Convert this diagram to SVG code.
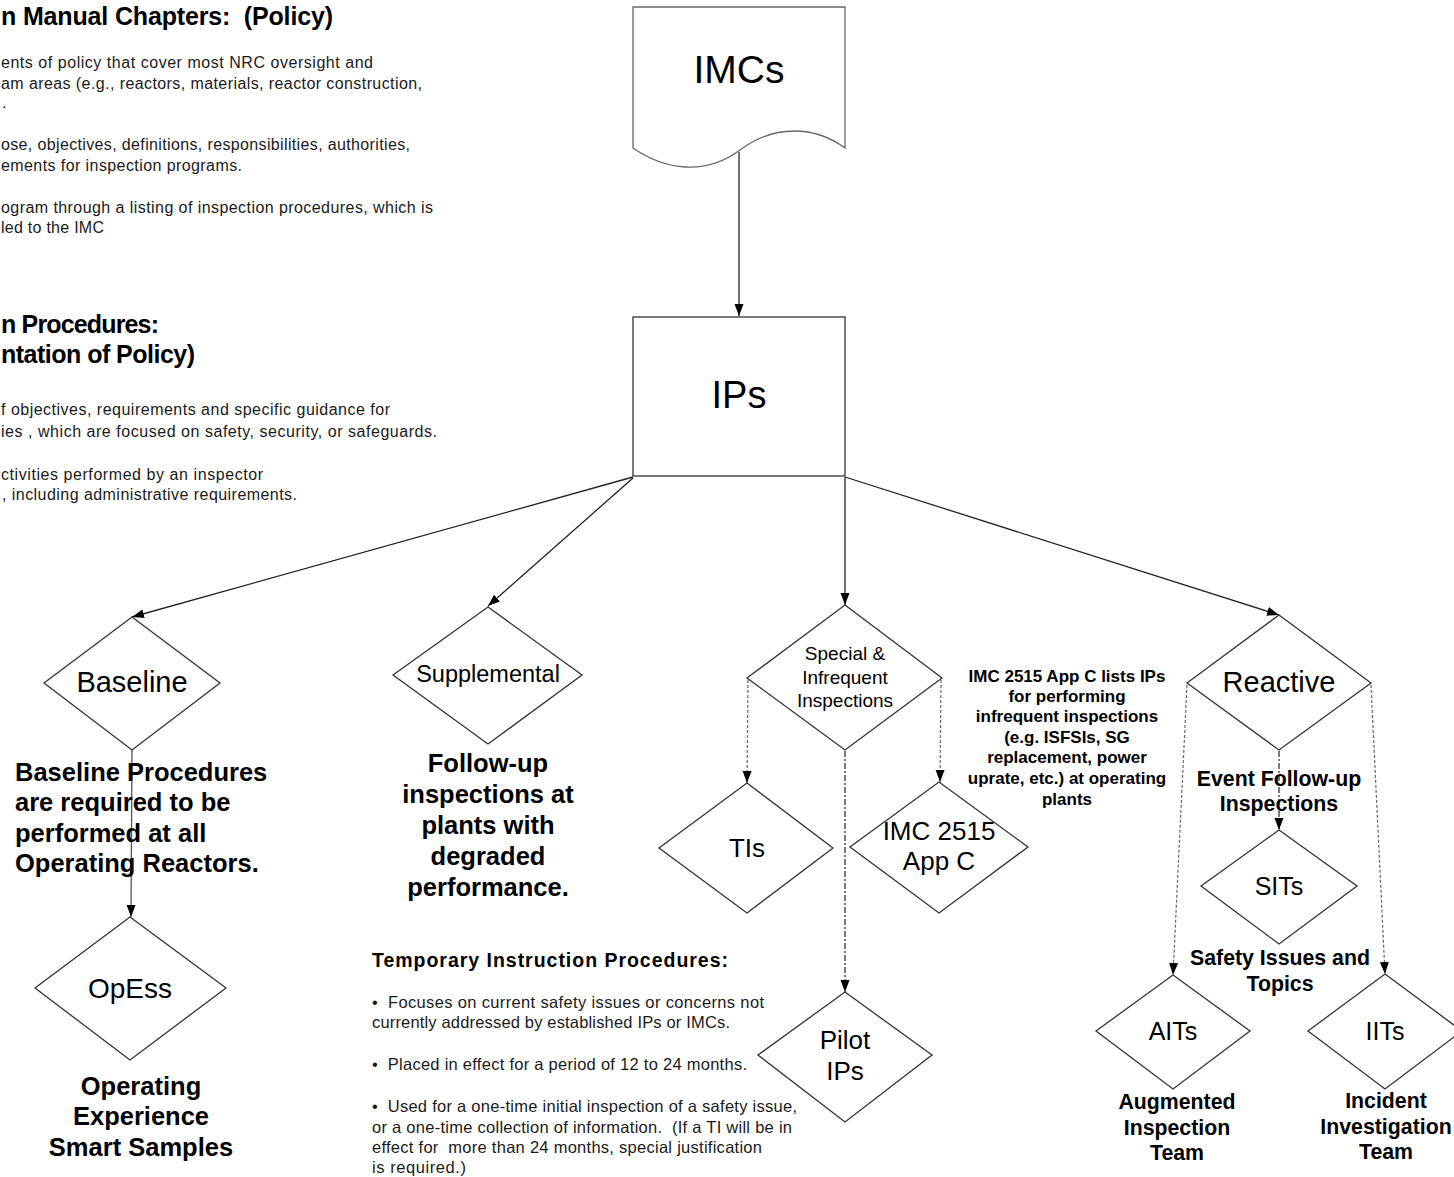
<svg xmlns="http://www.w3.org/2000/svg" width="1454" height="1177" viewBox="0 0 1454 1177">
<style>
text { font-family: "Liberation Sans", Arial, sans-serif; fill: #000; }
.shape { fill: #fff; stroke: #333; stroke-width: 1.3; }
.doc { fill: #fff; stroke: #666; stroke-width: 1.3; }
.m { text-anchor: middle; }
.b { font-weight: bold; }
.desc { font-size: 16px; fill: #1a1a1a; }
.ti { font-size: 16.5px; fill: #1a1a1a; }
.big { font-size: 25.5px; font-weight: bold; }
.mid { font-size: 21.3px; font-weight: bold; }
.conn { stroke: #222; stroke-width: 1.3; fill: none; marker-end: url(#arr); }
.gray { stroke: #555; stroke-width: 1.3; fill: none; marker-end: url(#arr); }
.dash { stroke: #666; stroke-width: 1.2; fill: none; stroke-dasharray: 3 2; marker-end: url(#arr); }
.dashd { stroke: #222; stroke-width: 1.2; fill: none; stroke-dasharray: 6 2 2 2; marker-end: url(#arr); }
</style>
<defs>
<marker id="arr" viewBox="0 0 12 10" markerWidth="12" markerHeight="10" refX="12" refY="5" orient="auto" markerUnits="userSpaceOnUse">
<path d="M0,0.5 L12,5 L0,9.5 z" fill="#000"/>
</marker>
</defs>

<g id="imc-description">
<text x="1" y="25" class="b" font-size="25" xml:space="preserve" textLength="332">n Manual Chapters:  (Policy)</text>
<text x="1" y="68" class="desc" textLength="372">ents of policy that cover most NRC oversight and</text>
<text x="1" y="89" class="desc" textLength="421">am areas (e.g., reactors, materials, reactor construction,</text>
<text x="2" y="108" class="desc">.</text>
<text x="1" y="150" class="desc" textLength="409">ose, objectives, definitions, responsibilities, authorities,</text>
<text x="1" y="171" class="desc" textLength="241">ements for inspection programs.</text>
<text x="1" y="213" class="desc" textLength="432">ogram through a listing of inspection procedures, which is</text>
<text x="1" y="233" class="desc" textLength="103">led to the IMC</text>
</g>

<g id="ip-description">
<text x="1" y="333" class="b" font-size="25" textLength="158">n Procedures:</text>
<text x="1" y="363" class="b" font-size="25" textLength="194">ntation of Policy)</text>
<text x="1" y="415" class="desc" textLength="389">f objectives, requirements and specific guidance for</text>
<text x="1" y="437" class="desc" textLength="436">ies , which are focused on safety, security, or safeguards.</text>
<text x="1" y="480" class="desc" textLength="262">ctivities performed by an inspector</text>
<text x="2" y="500" class="desc" textLength="295">, including administrative requirements.</text>
</g>

<g id="connectors">
<path class="conn" d="M739,152 L739,316"/>
<path class="conn" d="M633,477 L132,617"/>
<path class="conn" d="M633,478 L488,606"/>
<path class="conn" d="M845,477 L845,605"/>
<path class="conn" d="M845,477 L1279,615"/>
<path class="gray" d="M132,750 L131,917"/>
<path class="dash" d="M748,680 L747,783"/>
<path class="dash" d="M941,680 L940,782"/>
<path class="dashd" d="M845,751 L845,992"/>
<path class="dash" d="M1187,685 L1173,975"/>
<path class="dash" d="M1371,685 L1385,974"/>
<path class="dashd" d="M1279,751 L1279,830"/>
</g>

<g id="imcs">
<path class="doc" d="M633,7 H845 V148 C815,126 775,124 740,150 C705,176 665,170 633,148 Z"/>
<text x="739" y="83" class="m" font-size="39">IMCs</text>
</g>

<g id="ips">
<rect class="shape" x="633" y="317" width="212" height="159" stroke-width="1.5"/>
<text x="739" y="408" class="m" font-size="38">IPs</text>
</g>

<g id="baseline">
<polygon class="shape" points="132,617 220,683 132,750 44,683"/>
<text x="132" y="692" class="m" font-size="29">Baseline</text>
</g>
<g id="baseline-note">
<text x="15" y="781" class="big">Baseline Procedures</text>
<text x="15" y="811" class="big">are required to be</text>
<text x="15" y="842" class="big">performed at all</text>
<text x="15" y="872" class="big">Operating Reactors.</text>
</g>

<g id="opess">
<polygon class="shape" points="130,917 226,988 130,1060 35,988"/>
<text x="130" y="998" class="m" font-size="28">OpEss</text>
</g>
<g id="opess-note">
<text x="141" y="1095" class="m big">Operating</text>
<text x="141" y="1125" class="m big">Experience</text>
<text x="141" y="1156" class="m big">Smart Samples</text>
</g>

<g id="supplemental">
<polygon class="shape" points="488,607 582,675 488,744 393,675"/>
<text x="488" y="682" class="m" font-size="23.5">Supplemental</text>
</g>
<g id="supplemental-note">
<text x="488" y="772" class="m big">Follow-up</text>
<text x="488" y="803" class="m big">inspections at</text>
<text x="488" y="834" class="m big">plants with</text>
<text x="488" y="865" class="m big">degraded</text>
<text x="488" y="896" class="m big">performance.</text>
</g>

<g id="special">
<polygon class="shape" points="845,605 942,678 845,750 747,678"/>
<text x="845" y="660" class="m" font-size="19">Special &amp;</text>
<text x="845" y="684" class="m" font-size="19">Infrequent</text>
<text x="845" y="707" class="m" font-size="19">Inspections</text>
</g>

<g id="imc2515-note">
<text x="1067" y="682" class="m b" font-size="17">IMC 2515 App C lists IPs</text>
<text x="1067" y="702" class="m b" font-size="17">for performing</text>
<text x="1067" y="722" class="m b" font-size="17">infrequent inspections</text>
<text x="1067" y="743" class="m b" font-size="17">(e.g. ISFSIs, SG</text>
<text x="1067" y="763" class="m b" font-size="17">replacement, power</text>
<text x="1067" y="784" class="m b" font-size="17">uprate, etc.) at operating</text>
<text x="1067" y="805" class="m b" font-size="17">plants</text>
</g>

<g id="tis">
<polygon class="shape" points="747,783 833,848 747,913 659,848"/>
<text x="747" y="857" class="m" font-size="26">TIs</text>
</g>

<g id="imc2515">
<polygon class="shape" points="939,782 1028,847 939,913 850,847"/>
<text x="939" y="840" class="m" font-size="26">IMC 2515</text>
<text x="939" y="870" class="m" font-size="26">App C</text>
</g>

<g id="pilot">
<polygon class="shape" points="845,992 932,1055 845,1122 758,1055"/>
<text x="845" y="1049" class="m" font-size="26">Pilot</text>
<text x="845" y="1080" class="m" font-size="26">IPs</text>
</g>

<g id="ti-note">
<text x="372" y="967" class="b" font-size="19.5" textLength="356">Temporary Instruction Procedures:</text>
<text x="372" y="1008" class="ti" xml:space="preserve" textLength="392">•  Focuses on current safety issues or concerns not</text>
<text x="372" y="1028" class="ti" textLength="358">currently addressed by established IPs or IMCs.</text>
<text x="372" y="1070" class="ti" xml:space="preserve" textLength="375">•  Placed in effect for a period of 12 to 24 months.</text>
<text x="372" y="1112" class="ti" xml:space="preserve" textLength="425">•  Used for a one-time initial inspection of a safety issue,</text>
<text x="372" y="1133" class="ti" xml:space="preserve" textLength="420">or a one-time collection of information.  (If a TI will be in</text>
<text x="372" y="1153" class="ti" xml:space="preserve" textLength="390">effect for  more than 24 months, special justification</text>
<text x="372" y="1173" class="ti" textLength="94">is required.)</text>
</g>

<g id="reactive">
<polygon class="shape" points="1279,615 1371,683 1279,750 1187,683"/>
<text x="1279" y="692" class="m" font-size="29">Reactive</text>
</g>
<g id="reactive-note">
<text x="1279" y="786" class="m mid">Event Follow-up</text>
<text x="1279" y="811" class="m mid">Inspections</text>
</g>

<g id="sits">
<polygon class="shape" points="1279,830 1357,886 1279,944 1201,886"/>
<text x="1279" y="895" class="m" font-size="25">SITs</text>
</g>
<g id="sits-note">
<text x="1280" y="965" class="m mid">Safety Issues and</text>
<text x="1280" y="991" class="m mid">Topics</text>
</g>

<g id="aits">
<polygon class="shape" points="1173,975 1250,1031 1173,1089 1096,1031"/>
<text x="1173" y="1040" class="m" font-size="25">AITs</text>
</g>
<g id="aits-note">
<text x="1177" y="1109" class="m mid">Augmented</text>
<text x="1177" y="1135" class="m mid">Inspection</text>
<text x="1177" y="1160" class="m mid">Team</text>
</g>

<g id="iits">
<polygon class="shape" points="1385,974 1462,1031 1385,1089 1308,1031"/>
<text x="1385" y="1040" class="m" font-size="25">IITs</text>
</g>
<g id="iits-note">
<text x="1386" y="1108" class="m mid">Incident</text>
<text x="1386" y="1134" class="m mid">Investigation</text>
<text x="1386" y="1159" class="m mid">Team</text>
</g>
</svg>
